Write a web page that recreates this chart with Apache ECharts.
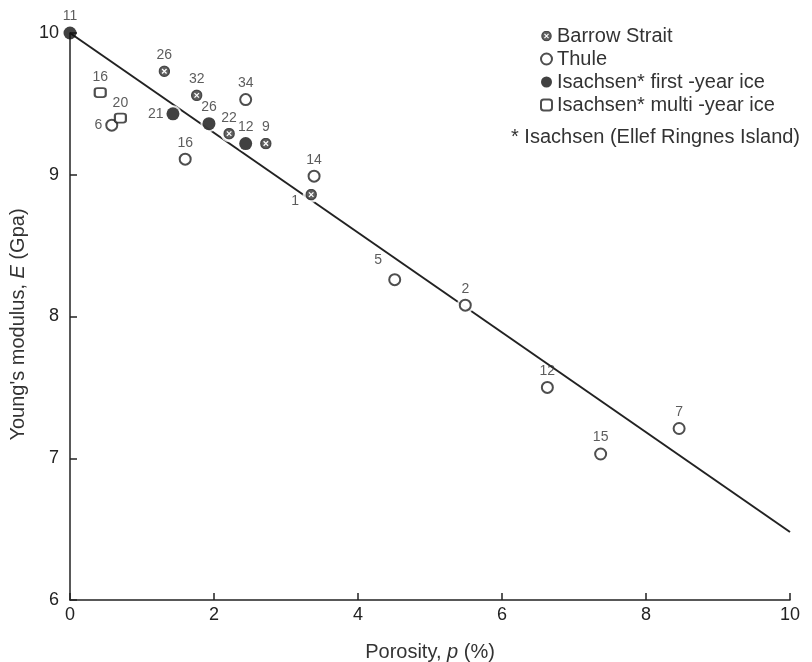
<!DOCTYPE html>
<html>
<head>
<meta charset="utf-8">
<script src="https://cdn.jsdelivr.net/npm/echarts@6/dist/echarts.min.js"></script>
<style>
  html, body { margin: 0; padding: 0; background: #fff; }
  #chart { width: 812px; height: 662px; }
</style>
</head>
<body>
<div id="chart"></div>
<script>
// porosity p (%), modulus E (GPa), number of samples
const barrowP = [1.31, 1.76, 2.21, 2.72, 3.35];
const barrowE = [9.73, 9.56, 9.29, 9.22, 8.86];
const barrowN = [26, 32, 22, 9, 1];

const thuleP = [2.44, 1.60, 0.58, 3.39, 4.51, 5.49, 6.63, 7.37, 8.46];
const thuleE = [9.53, 9.11, 9.35, 8.99, 8.26, 8.08, 7.50, 7.03, 7.21];
const thuleN = [34, 16, 6, 14, 5, 2, 12, 15, 7];

const firstP = [0, 1.43, 1.93, 2.44];
const firstE = [10, 9.43, 9.36, 9.22];
const firstN = [11, 21, 26, 12];

const multiP = [0.42, 0.70];
const multiE = [9.58, 9.40];
const multiN = [16, 20];

// fitted line E = 10 - 0.352 p
const fitP = [0, 10];
const fitE = [10, 6.48];

const xTicks = [0, 2, 4, 6, 8, 10];
const yTicks = [6, 7, 8, 9, 10];

const ink = '#222';
const font = '"Liberation Sans", Arial, sans-serif';

// label placement per point (layout only)
const barrowPos = ['top', 'top', 'top', 'top', [-14, 6]];
const thulePos = ['top', 'top', 'left', 'top', [-14, -20], 'top', 'top', 'top', 'top'];
const firstPos = ['top', 'left', 'top', 'top'];
const multiPos = ['top', 'top'];

function pts(P, E, N, pos) {
  return P.map((p, i) => {
    const item = { value: [p, E[i], N[i]] };
    if (pos) item.label = { position: pos[i] };
    return item;
  });
}

const crossSvg = "<svg xmlns='http://www.w3.org/2000/svg' width='24' height='24' viewBox='0 0 24 24'>" +
  "<circle cx='12' cy='12' r='10' fill='#3a3a3a' stroke='#1c1c1c' stroke-width='3'/>" +
  "<path d='M7.5 7.5L16.5 16.5M16.5 7.5L7.5 16.5' stroke='#ffffff' stroke-width='2.6'/></svg>";
const crossSymbol = 'image://data:image/svg+xml;charset=utf-8,' + encodeURIComponent(crossSvg);

const labelStyle = {
  show: true,
  formatter: p => String(p.value[2]),
  fontSize: 14,
  color: '#333',
  fontFamily: font,
  distance: 3
};

const allP = [].concat(barrowP, thuleP, firstP.slice(1), multiP);
const allE = [].concat(barrowE, thuleE, firstE.slice(1), multiE);

const titleStyle = {
  fontSize: 20, color: '#333', fontFamily: font,
  rich: { i: { fontStyle: 'italic', fontSize: 20, fontFamily: font, color: '#333' } }
};

const chart = echarts.init(document.getElementById('chart'));
chart.setOption({
  backgroundColor: '#fff',
  animation: false,
  grid: { left: 70, right: 22, top: 33, bottom: 62, containLabel: false, outerBoundsMode: 'none' },
  legend: {
    orient: 'vertical',
    left: 535,
    top: 21,
    itemGap: 3,
    itemWidth: 11,
    itemHeight: 11,
    textStyle: { fontSize: 20, color: '#333', fontFamily: font },
    data: ['Barrow Strait', 'Thule', 'Isachsen* first -year ice', 'Isachsen* multi -year ice']
  },
  graphic: [{
    type: 'text',
    left: 511,
    top: 127,
    style: { text: '* Isachsen (Ellef Ringnes Island)', fontSize: 20, fill: '#333', fontFamily: font }
  }],
  xAxis: {
    type: 'value',
    min: 0, max: 10, interval: 2,
    splitLine: { show: false },
    axisLine: { lineStyle: { color: ink, width: 1.5 } },
    axisTick: { inside: true, length: 7, lineStyle: { color: ink, width: 1.5 } },
    axisLabel: { fontSize: 18, color: ink, fontFamily: font, margin: 6,
      formatter: v => xTicks.includes(v) ? String(v) : '' },
    name: 'Porosity, {i|p} (%)',
    nameLocation: 'middle',
    nameGap: 42,
    nameTextStyle: titleStyle
  },
  yAxis: {
    type: 'value',
    min: 6, max: 10, interval: 1,
    splitLine: { show: false },
    axisLine: { lineStyle: { color: ink, width: 1.5 } },
    axisTick: { inside: true, length: 7, lineStyle: { color: ink, width: 1.5 } },
    axisLabel: { fontSize: 18, color: ink, fontFamily: font, margin: 11,
      formatter: v => yTicks.includes(v) ? String(v) : '' },
    name: "Young's modulus, {i|E} (Gpa)",
    nameLocation: 'middle',
    nameGap: 31,
    nameRotate: 90,
    nameTextStyle: Object.assign({ padding: [0, 16, 0, 0] }, titleStyle)
  },
  series: [
    {
      name: 'fit',
      type: 'line',
      z: 1,
      silent: true,
      symbol: 'none',
      lineStyle: { color: ink, width: 2 },
      data: fitP.map((p, i) => [p, fitE[i]])
    },
    {
      name: 'halo',
      type: 'scatter',
      z: 2,
      silent: true,
      clip: false,
      symbol: 'circle',
      symbolSize: 17,
      itemStyle: { color: '#fff' },
      data: allP.map((p, i) => [p, allE[i]])
    },
    {
      name: 'Barrow Strait',
      type: 'scatter',
      z: 3,
      clip: false,
      symbol: crossSymbol,
      symbolSize: 12,
      itemStyle: { color: '#333' },
      label: labelStyle,
      data: pts(barrowP, barrowE, barrowN, barrowPos)
    },
    {
      name: 'Thule',
      type: 'scatter',
      z: 3,
      clip: false,
      symbol: 'circle',
      symbolSize: 11,
      itemStyle: { color: '#fff', borderColor: ink, borderWidth: 2 },
      label: labelStyle,
      data: pts(thuleP, thuleE, thuleN, thulePos)
    },
    {
      name: 'Isachsen* first -year ice',
      type: 'scatter',
      z: 3,
      clip: false,
      symbol: 'circle',
      symbolSize: 13,
      itemStyle: { color: '#111' },
      label: labelStyle,
      data: pts(firstP, firstE, firstN, firstPos)
    },
    {
      name: 'Isachsen* multi -year ice',
      type: 'scatter',
      z: 3,
      clip: false,
      symbol: 'roundRect',
      symbolSize: [11, 9],
      itemStyle: { color: '#fff', borderColor: ink, borderWidth: 2 },
      label: labelStyle,
      data: pts(multiP, multiE, multiN, multiPos)
    }
  ]
});
</script>
</body>
</html>
